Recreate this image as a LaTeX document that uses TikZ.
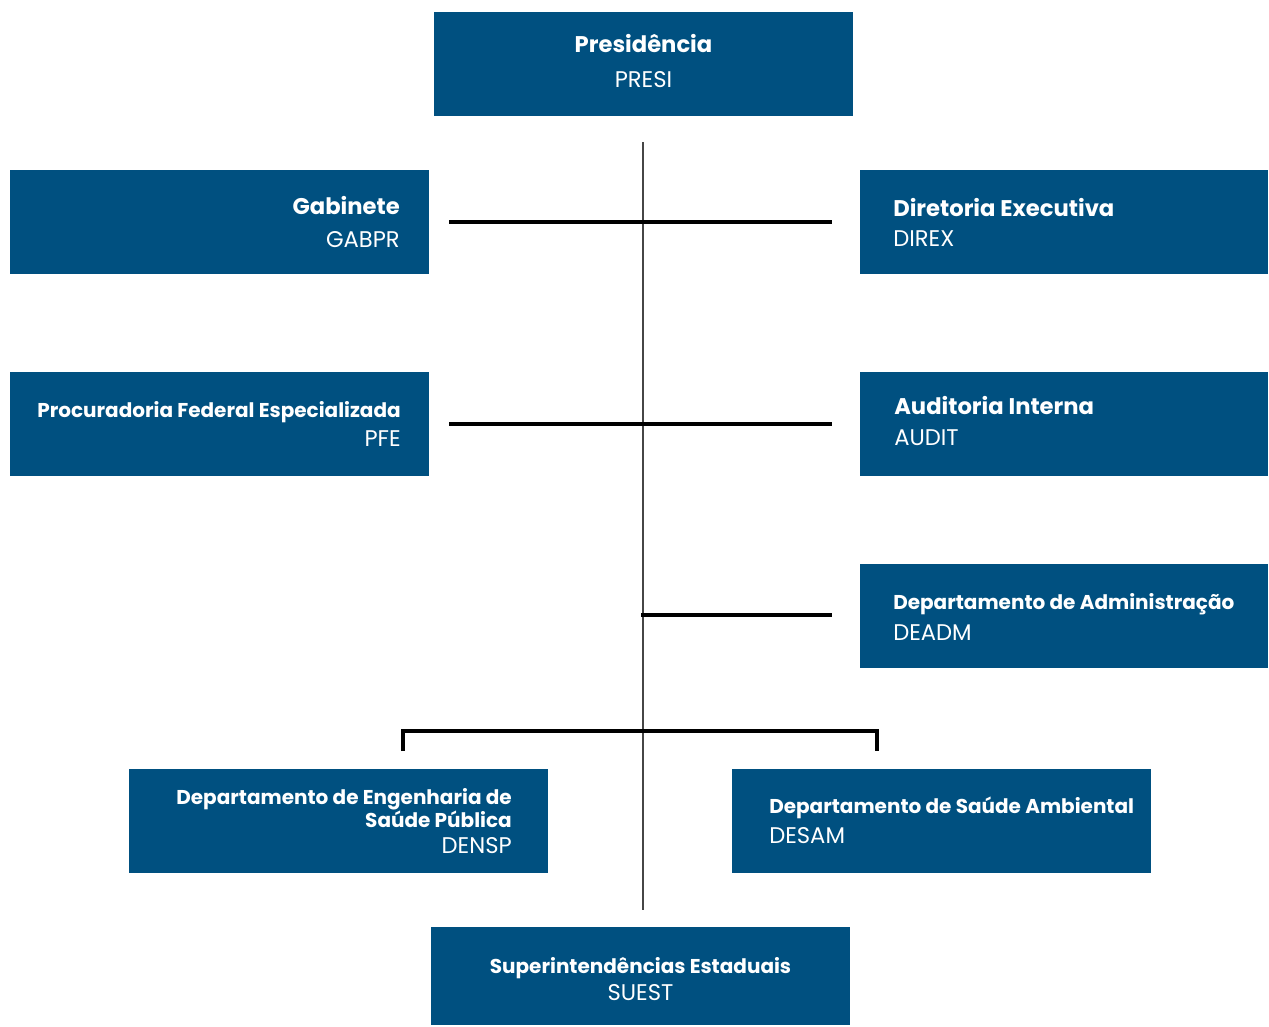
\documentclass[tikz,border=0pt]{standalone}
\usepackage{fontspec}
\setmainfont{Poppins}
\definecolor{boxblue}{RGB}{0,80,128}
\definecolor{vgray}{RGB}{70,70,70}
\begin{document}
\begin{tikzpicture}[x=0.75pt,y=-0.75pt,
  box/.style={fill=boxblue,draw=none,inner sep=0pt,outer sep=0pt},
  bigt/.style={text=white,inner sep=0pt,font=\fontsize{17}{20}\selectfont\bfseries},
  smallt/.style={text=white,inner sep=0pt,font=\fontsize{15}{17}\selectfont\bfseries},
  code/.style={text=white,inner sep=0pt,font=\fontsize{17}{20}\selectfont},
  hline/.style={line width=2.4pt,black},
  vline/.style={line width=1.3pt,vgray}]
\useasboundingbox (0,0) rectangle (1269,1026);
% boxes
\path[box] (434,12) rectangle (853,116);
\path[box] (10,170) rectangle (429,274);
\path[box] (860,170) rectangle (1268,274);
\path[box] (10,372) rectangle (429,476);
\path[box] (860,372) rectangle (1268,476);
\path[box] (860,564) rectangle (1268,668);
\path[box] (129,769) rectangle (548,873);
\path[box] (732,769) rectangle (1151,873);
\path[box] (431,927) rectangle (850,1025);
% texts
\node[bigt,anchor=base] (presiT) at (643.5,52) {Presidência};
\node[code,anchor=base] (presiC) at (643.5,87) {PRESI};
\node[bigt,anchor=base east] (gabT) at (400,214) {Gabinete};
\node[code,anchor=base east] (gabC) at (400,247) {GABPR};
\node[bigt,anchor=base west] (dirT) at (893,216) {Diretoria Executiva};
\node[code,anchor=base west] (dirC) at (893,246) {DIREX};
\node[smallt,anchor=base east] (pfeT) at (401,417) {Procuradoria Federal Especializada};
\node[code,anchor=base east] (pfeC) at (401,446) {PFE};
\node[bigt,anchor=base west] (audT) at (894,414) {Auditoria Interna};
\node[code,anchor=base west] (audC) at (894,445) {AUDIT};
\node[smallt,anchor=base west] (admT) at (893,609) {Departamento de Administração};
\node[code,anchor=base west] (admC) at (893,640) {DEADM};
\node[smallt,anchor=base east] (denT1) at (512,804) {Departamento de Engenharia de};
\node[smallt,anchor=base east] (denT2) at (512,827) {Saúde Pública};
\node[code,anchor=base east] (denC) at (512,853) {DENSP};
\node[smallt,anchor=base west] (desT) at (769,813) {Departamento de Saúde Ambiental};
\node[code,anchor=base west] (desC) at (769,843) {DESAM};
\node[smallt,anchor=base] (suT) at (640.5,973) {Superintendências Estaduais};
\node[code,anchor=base] (suC) at (640.5,1000) {SUEST};
% connectors
\coordinate (vtop) at (643,142);
\coordinate (vbot) at (643,910);
\draw[vline] (vtop) -- (vbot);
\coordinate (l1a) at (449,222); \coordinate (l1b) at (832,222);
\coordinate (l2a) at (449,424); \coordinate (l2b) at (832,424);
\coordinate (l3a) at (641,615); \coordinate (l3b) at (832,615);
\draw[hline] (l1a) -- (l1b);
\draw[hline] (l2a) -- (l2b);
\draw[hline] (l3a) -- (l3b);
\coordinate (bl) at (403,751); \coordinate (br) at (877,751);
\draw[hline] (bl) -- (403,731) -- (877,731) -- (br);
\end{tikzpicture}
\end{document}
